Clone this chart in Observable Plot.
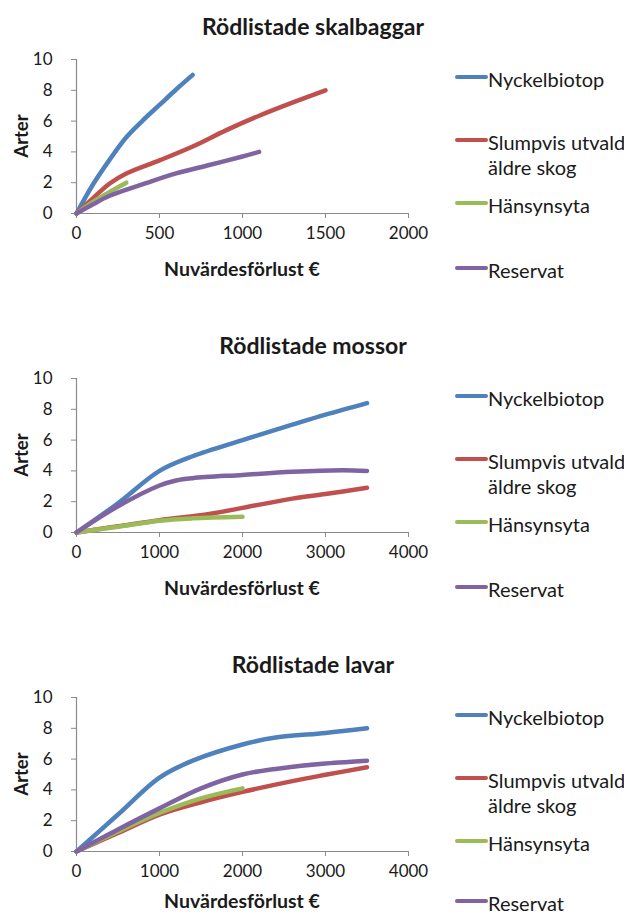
<!DOCTYPE html>
<html>
<head>
<meta charset="utf-8">
<script src="https://cdn.jsdelivr.net/npm/d3@7"></script>
<script src="https://cdn.jsdelivr.net/npm/@observablehq/plot@0.6"></script>
<style>
  body { margin: 0; background: #fff; font-family: Lato, "Open Sans", sans-serif; color: #1a1a1a; }
  #root { position: relative; width: 624px; }
  .panel { position: relative; width: 624px; height: 319px; }
  .title { position: absolute; left: 0; width: 626px; top: 12px; text-align: center; font-weight: bold; font-size: 23px; line-height: 28px; }
  .plotbox { position: absolute; left: 0; top: 40px; }
  .xtitle { position: absolute; left: 76px; width: 332px; top: 260px; text-align: center; font-weight: bold; font-size: 19.5px; line-height: 18px; }
  .ytitle { position: absolute; left: 21px; top: 136px; transform: translate(-50%, -50%) rotate(-90deg); font-weight: bold; font-size: 18.5px; line-height: 22px; white-space: nowrap; }
  .leg { position: absolute; left: 455px; font-size: 20px; line-height: 20px; }
  .leg .sw { position: absolute; left: 0; width: 33px; height: 4px; border-radius: 2px; }
  .leg .tx { position: absolute; left: 33px; white-space: nowrap; }
</style>
</head>
<body>
<div id="root"></div>
<script>
// ---- data ----
const seriesNames = ["Nyckelbiotop", "Slumpvis utvald äldre skog", "Hänsynsyta", "Reservat"];
const legendLines = [["Nyckelbiotop"], ["Slumpvis utvald", "äldre skog"], ["Hänsynsyta"], ["Reservat"]];
const yTicks = [0, 2, 4, 6, 8, 10];
const xTicksSkalbaggar = [0, 500, 1000, 1500, 2000];
const xTicksMossorLavar = [0, 1000, 2000, 3000, 4000];
const panelTitles = ["Rödlistade skalbaggar", "Rödlistade mossor", "Rödlistade lavar"];
const xAxisTitle = "Nuvärdesförlust €";
const yAxisTitle = "Arter";

// Rödlistade skalbaggar: [Nuvärdesförlust, Arter]
const skalbaggarNyckelbiotop = [[0,0],[100,1.9],[200,3.5],[300,4.95],[400,6.05],[500,7.05],[600,8.05],[700,9.0]];
const skalbaggarSlumpvis = [[0,0],[100,1.0],[200,1.95],[300,2.6],[500,3.45],[700,4.35],[900,5.4],[1100,6.35],[1300,7.2],[1500,8.0]];
const skalbaggarHansyn = [[0,0],[100,0.75],[200,1.4],[300,2.0]];
const skalbaggarReservat = [[0,0],[100,0.6],[200,1.15],[400,1.9],[600,2.6],[800,3.15],[1000,3.7],[1100,4.0]];

// Rödlistade mossor
const mossorNyckelbiotop = [[0,0],[500,1.9],[1000,4.0],[1400,4.95],[2000,6.0],[2600,7.0],[3000,7.65],[3500,8.4]];
const mossorSlumpvis = [[0,0],[500,0.4],[1000,0.8],[1600,1.2],[2000,1.6],[2600,2.2],[3000,2.5],[3500,2.9]];
const mossorHansyn = [[0,0],[500,0.38],[1000,0.77],[1400,0.92],[2000,1.02]];
const mossorReservat = [[0,0],[500,1.7],[1000,3.05],[1200,3.38],[1400,3.53],[2000,3.74],[2600,3.94],[3200,4.04],[3500,4.0]];

// Rödlistade lavar
const lavarNyckelbiotop = [[0,0],[500,2.4],[1000,4.8],[1400,5.9],[2000,6.95],[2400,7.4],[3000,7.7],[3500,8.0]];
const lavarSlumpvis = [[0,0],[500,1.2],[1000,2.4],[1500,3.2],[2000,3.87],[2600,4.57],[3000,4.98],[3500,5.47]];
const lavarHansyn = [[0,0],[500,1.3],[1000,2.5],[1500,3.45],[2000,4.1]];
const lavarReservat = [[0,0],[500,1.43],[1000,2.8],[1500,4.1],[2000,5.0],[2400,5.36],[3000,5.72],[3500,5.9]];

const colors = ["#4F81BD", "#C0504D", "#9BBB59", "#8064A2"];

const panels = [
  { title: panelTitles[0], xMax: 2000, xTicks: xTicksSkalbaggar, series: [skalbaggarNyckelbiotop, skalbaggarSlumpvis, skalbaggarHansyn, skalbaggarReservat] },
  { title: panelTitles[1], xMax: 4000, xTicks: xTicksMossorLavar, series: [mossorNyckelbiotop, mossorSlumpvis, mossorHansyn, mossorReservat] },
  { title: panelTitles[2], xMax: 4000, xTicks: xTicksMossorLavar, series: [lavarNyckelbiotop, lavarSlumpvis, lavarHansyn, lavarReservat] }
];

const legendTops = [77, 140, 203, 268]; // swatch centre within a panel
const root = document.getElementById("root");
const axisColor = "#8a8a8a";

panels.forEach((p, pi) => {
  const isLast = pi === panels.length - 1;
  const panel = document.createElement("div");
  panel.className = "panel";
  root.appendChild(panel);

  const t = document.createElement("div");
  t.className = "title"; t.textContent = p.title;
  panel.appendChild(t);

  const rows = [];
  p.series.forEach((s, i) => s.forEach(([x, y]) => rows.push({ x, y, name: seriesNames[i] })));

  const chart = Plot.plot({
    width: 440, height: 250,
    marginLeft: 76, marginRight: 32, marginTop: 19, marginBottom: 77,
    style: { fontFamily: "Lato, sans-serif", fontSize: "17px", color: "#1a1a1a", overflow: "visible", background: "transparent" },
    x: { domain: [0, p.xMax], label: null },
    y: { domain: [0, 10], label: null },
    color: { domain: seriesNames, range: colors },
    marks: [
      Plot.axisY({ ticks: yTicks, tickSize: 5, tickPadding: 19, stroke: axisColor, label: null, fill: "#1a1a1a", tickFormat: d3.format("d") }),
      Plot.axisX({ ticks: p.xTicks, tickSize: 5, tickPadding: 8, stroke: axisColor, label: null, fill: "#1a1a1a", tickFormat: d3.format("d") }),
      Plot.ruleX([0], { stroke: axisColor, strokeWidth: 1.2 }),
      Plot.ruleY([0], { stroke: axisColor, strokeWidth: 1.2 }),
      Plot.line(rows, { x: "x", y: "y", z: "name", stroke: "name", strokeWidth: 4.5, curve: "catmull-rom", strokeLinecap: "round", strokeLinejoin: "round" })
    ]
  });
  const box = document.createElement("div");
  box.className = "plotbox";
  box.appendChild(chart);
  panel.appendChild(box);

  const xt = document.createElement("div");
  xt.className = "xtitle"; xt.textContent = xAxisTitle;
  if (isLast) xt.style.top = "254px";
  panel.appendChild(xt);

  const yt = document.createElement("div");
  yt.className = "ytitle"; yt.textContent = yAxisTitle;
  panel.appendChild(yt);

  legendLines.forEach((lines, i) => {
    const leg = document.createElement("div");
    leg.className = "leg";
    let top = legendTops[i];
    if (isLast && i === legendLines.length - 1) top -= 5;
    leg.style.top = top + "px";
    const sw = document.createElement("div");
    sw.className = "sw"; sw.style.background = colors[i]; sw.style.top = "-2px";
    leg.appendChild(sw);
    lines.forEach((ln, k) => {
      const tx = document.createElement("div");
      tx.className = "tx"; tx.textContent = ln;
      tx.style.top = (-8 + k * 25) + "px";
      leg.appendChild(tx);
    });
    panel.appendChild(leg);
  });
});
</script>
</body>
</html>
